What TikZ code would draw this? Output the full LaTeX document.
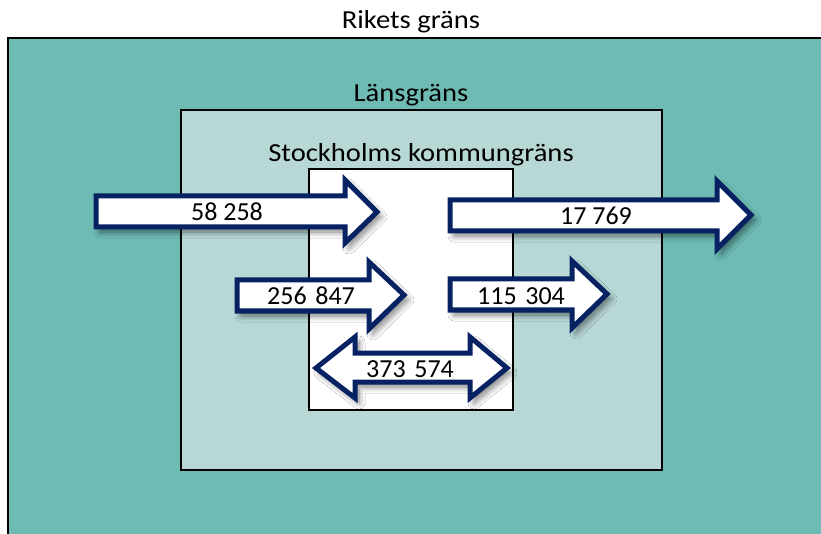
\documentclass[tikz,border=0pt]{standalone}
\usepackage{fontspec}
\setmainfont{Carlito}
\newfontfamily\labelfont{Carlito}[FakeStretch=1.1]
\usetikzlibrary{shadows.blur}
\definecolor{rike}{HTML}{6EBBB4}
\definecolor{lan}{HTML}{B8D8D6}
\definecolor{navy}{HTML}{072262}
\tikzset{
  border/.style={draw=black, line width=2pt},
  flow/.style={draw=navy, fill=white, line width=5pt, line join=miter,
    blur shadow={shadow xshift=4pt, shadow yshift=-5pt, shadow blur radius=6pt, shadow blur steps=10, shadow opacity=50}},
  lbl/.style={font=\labelfont\fontsize{26}{30}\selectfont, inner sep=0pt, text=black},
  num/.style={font=\fontsize{26}{30}\selectfont, inner sep=0pt, text=black}
}
\begin{document}
\begin{tikzpicture}[x=1pt, y=-1pt]
\useasboundingbox (0,0) rectangle (821,534);
\fill[white] (0,0) rectangle (821,534);
% Rikets gräns
\fill[rike] (8,38) rectangle (830,545);
\draw[border] (8,545) -- (8,38) -- (830,38);
% Länsgräns
\filldraw[border, fill=lan] (181,110) rectangle (662,470);
% Stockholms kommungräns
\filldraw[border, fill=white] (309,169) rectangle (513,410);
% labels
\node[lbl] (rike) at (411,22) {Rikets gräns};
\node[lbl] (lansg) at (411,95) {Länsgräns};
\node[lbl] (sthlm) at (421,155) {Stockholms kommungräns};
% arrows
\draw[flow] (96,196) -- (345,196) -- (345,180) -- (377,212) -- (345,243) -- (345,227) -- (96,227) -- cycle;
\draw[flow] (237,280) -- (369,280) -- (369,262) -- (404,295) -- (369,329) -- (369,311) -- (237,311) -- cycle;
\draw[flow] (450,200) -- (717,200) -- (717,181) -- (751,215) -- (717,249) -- (717,231) -- (450,231) -- cycle;
\draw[flow] (450,279) -- (572,279) -- (572,261) -- (607,294) -- (572,328) -- (572,310) -- (450,310) -- cycle;
\draw[flow] (316,368) -- (355,337) -- (355,353) -- (470,353) -- (470,337) -- (507,368) -- (470,398) -- (470,382) -- (355,382) -- (355,398) -- cycle;
% numbers
\node[num] (n1) at (227,212) {58 258};
\node[num] (n2) at (311,296) {256\,\,847};
\node[num] (n3) at (596,216) {17 769};
\node[num] (n4) at (521,296) {115\,\,304};
\node[num] (n5) at (410,369) {373\,\,574};
\end{tikzpicture}
\end{document}
